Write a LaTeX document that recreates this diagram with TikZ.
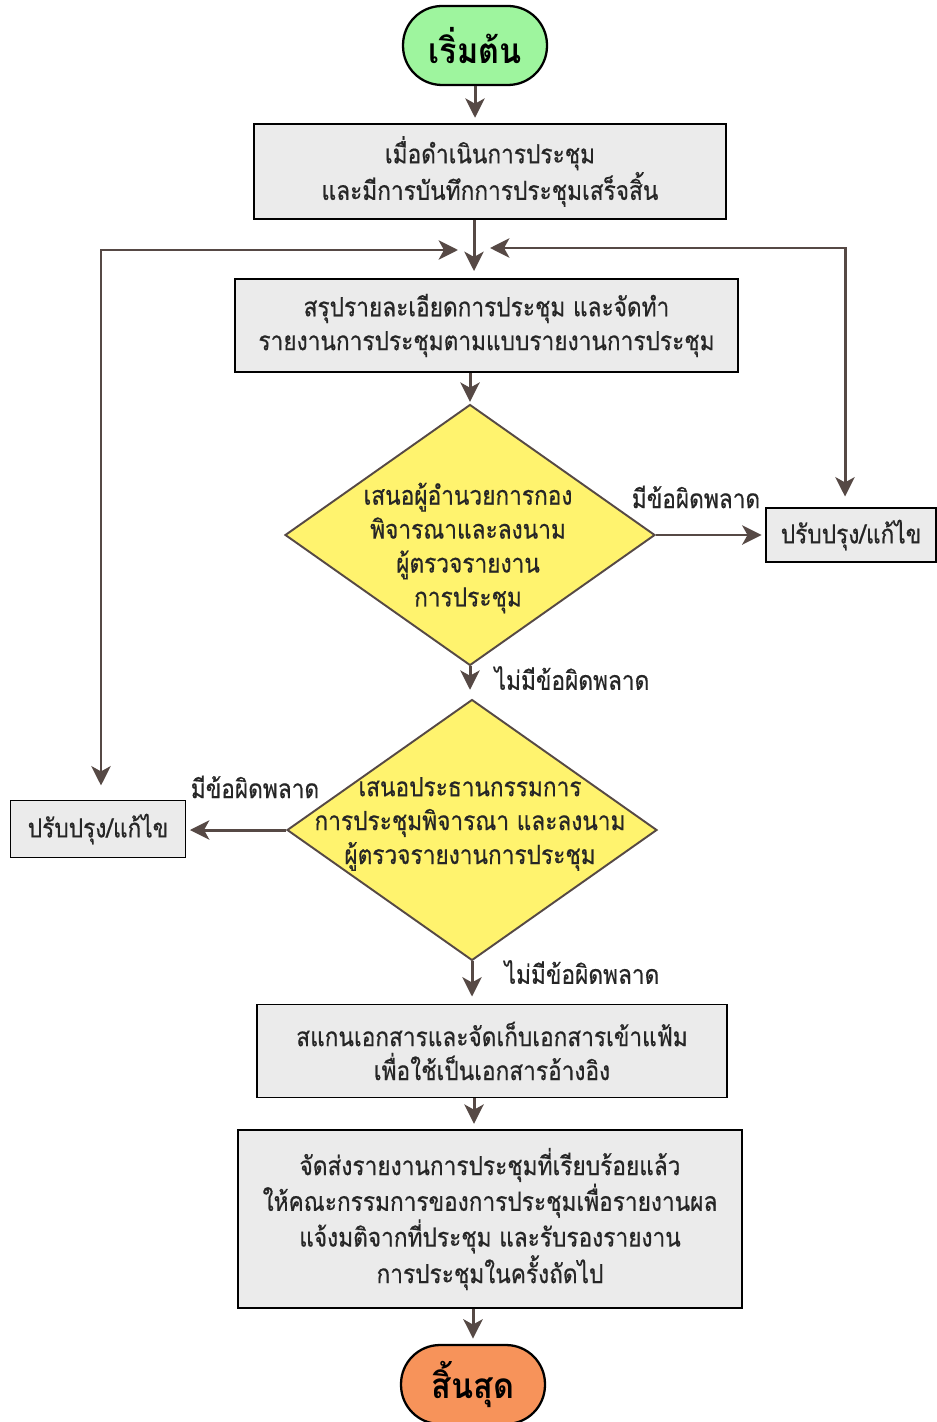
\documentclass[tikz,border=0pt]{standalone}
\usepackage{fontspec}
\usetikzlibrary{shapes.geometric,arrows.meta}
\newfontfamily\thaifont[Script=Thai,FakeStretch=0.86,FakeBold=0.5]{Loma}
\newfontfamily\thaititle[Script=Thai,FakeStretch=0.92]{Loma}
\definecolor{startgreen}{HTML}{9EF59E}
\definecolor{endorange}{HTML}{F7935A}
\definecolor{boxgray}{HTML}{EBEBEB}
\definecolor{diayellow}{HTML}{FFF36E}
\definecolor{arrcol}{HTML}{564945}
\definecolor{txtcol}{HTML}{262626}
\tikzset{
  txt/.style={font=\thaifont\fontsize{15}{19.3}\selectfont, text=txtcol, align=center},
  procbox/.style={draw=black, line width=1.1pt, fill=boxgray, rectangle, inner sep=0pt, txt},
  terminal/.style={draw=black, line width=1.3pt, rectangle, rounded corners=0.78cm, minimum width=2.88cm, minimum height=1.58cm, inner sep=0pt, font=\thaititle\bfseries\fontsize{20}{24}\selectfont, text=black},
  decision/.style={draw=arrcol, line width=1.1pt, fill=diayellow, diamond, inner sep=0pt, minimum width=7.4cm, minimum height=5.22cm},
  arr/.style={draw=arrcol, line width=1.7pt, -{Stealth[length=11pt,width=11pt,inset=3pt]}},
  arrboth/.style={draw=arrcol, line width=1.7pt, {Stealth[length=11pt,width=11pt,inset=3pt]}-{Stealth[length=11pt,width=11pt,inset=3pt]}},
  lbl/.style={txt}
}
\begin{document}
\begin{tikzpicture}[x=0.02cm,y=-0.02cm]
\useasboundingbox (0,0) rectangle (936,1422);
% nodes
\node[terminal, fill=startgreen] (start) at (475,45.5) {เริ่มต้น};
\node[procbox, minimum width=9.44cm, minimum height=1.9cm] (box1) at (490,171.5) {เมื่อดำเนินการประชุม\\และมีการบันทึกการประชุมเสร็จสิ้น};
\node[procbox, minimum width=10.06cm, minimum height=1.86cm] (box2) at (486.5,325.5) {สรุปรายละเอียดการประชุม และจัดทำ\\รายงานการประชุมตามแบบรายงานการประชุม};
\node[decision] (d1) at (470,535) {};
\node[txt] (d1t) at (468,548) {เสนอผู้อำนวยการกอง\\พิจารณาและลงนาม\\ผู้ตรวจรายงาน\\การประชุม};
\node[procbox, minimum width=3.4cm, minimum height=1.08cm] (fix1) at (851,535) {ปรับปรุง/แก้ไข};
\node[decision] (d2) at (472,830) {};
\node[txt] (d2t) at (470,824) {เสนอประธานกรรมการ\\การประชุมพิจารณา และลงนาม\\ผู้ตรวจรายงานการประชุม};
\node[procbox, minimum width=3.5cm, minimum height=1.14cm] (fix2) at (98,829) {ปรับปรุง/แก้ไข};
\node[procbox, minimum width=9.4cm, minimum height=1.86cm] (box3) at (492,1051) {สแกนเอกสารและจัดเก็บเอกสารเข้าแฟ้ม\\เพื่อใช้เป็นเอกสารอ้างอิง};
\node[procbox, minimum width=10.08cm, minimum height=3.56cm] (box4) at (490,1219) {จัดส่งรายงานการประชุมที่เรียบร้อยแล้ว\\ให้คณะกรรมการของการประชุมเพื่อรายงานผล\\แจ้งมติจากที่ประชุม และรับรองรายงาน\\การประชุมในครั้งถัดไป};
\node[terminal, fill=endorange] (end) at (473,1384.5) {สิ้นสุด};
% junction coordinates
\coordinate (j) at (474,250);
\coordinate (jl) at (458,250);
\coordinate (jr) at (490,248);
\coordinate (cl) at (101,250);
\coordinate (cr) at (845,248);
% connectors
\draw[arr, shorten >=3pt] (start.south) -- (start.south |- box1.north);
\draw[arr, shorten >=4pt] (box1.south -| j) -- (box2.north -| j);
\draw[arrboth, shorten <=8pt] (fix2.north -| cl) -- (cl) -- (jl);
\draw[arrboth, shorten <=6pt] (fix1.north -| cr) -- (cr) -- (jr);
\draw[arr, shorten >=1pt] (box2.south -| d1.north) -- (d1.north);
\draw[arr, shorten >=2pt] (d1.east) -- (d1.east -| fix1.west);
\node[lbl] (l1) at (696,497) {มีข้อผิดพลาด};
\draw[arr, shorten >=5pt] (d1.south) -- (d2.north -| d1.south);
\node[lbl] (l2) at (572,678) {ไม่มีข้อผิดพลาด};
\draw[arr, shorten >=2pt] (d2.west) -- (d2.west -| fix2.east);
\node[lbl] (l3) at (255,787) {มีข้อผิดพลาด};
\draw[arr, shorten >=4pt] (d2.south) -- (box3.north -| d2.south);
\node[lbl] (l4) at (582,972) {ไม่มีข้อผิดพลาด};
\draw[arr, shorten >=3pt] (box3.south -| 474,0) -- (box4.north -| 474,0);
\draw[arr, shorten >=3pt] (box4.south -| end.north) -- (end.north);
\end{tikzpicture}
\end{document}
